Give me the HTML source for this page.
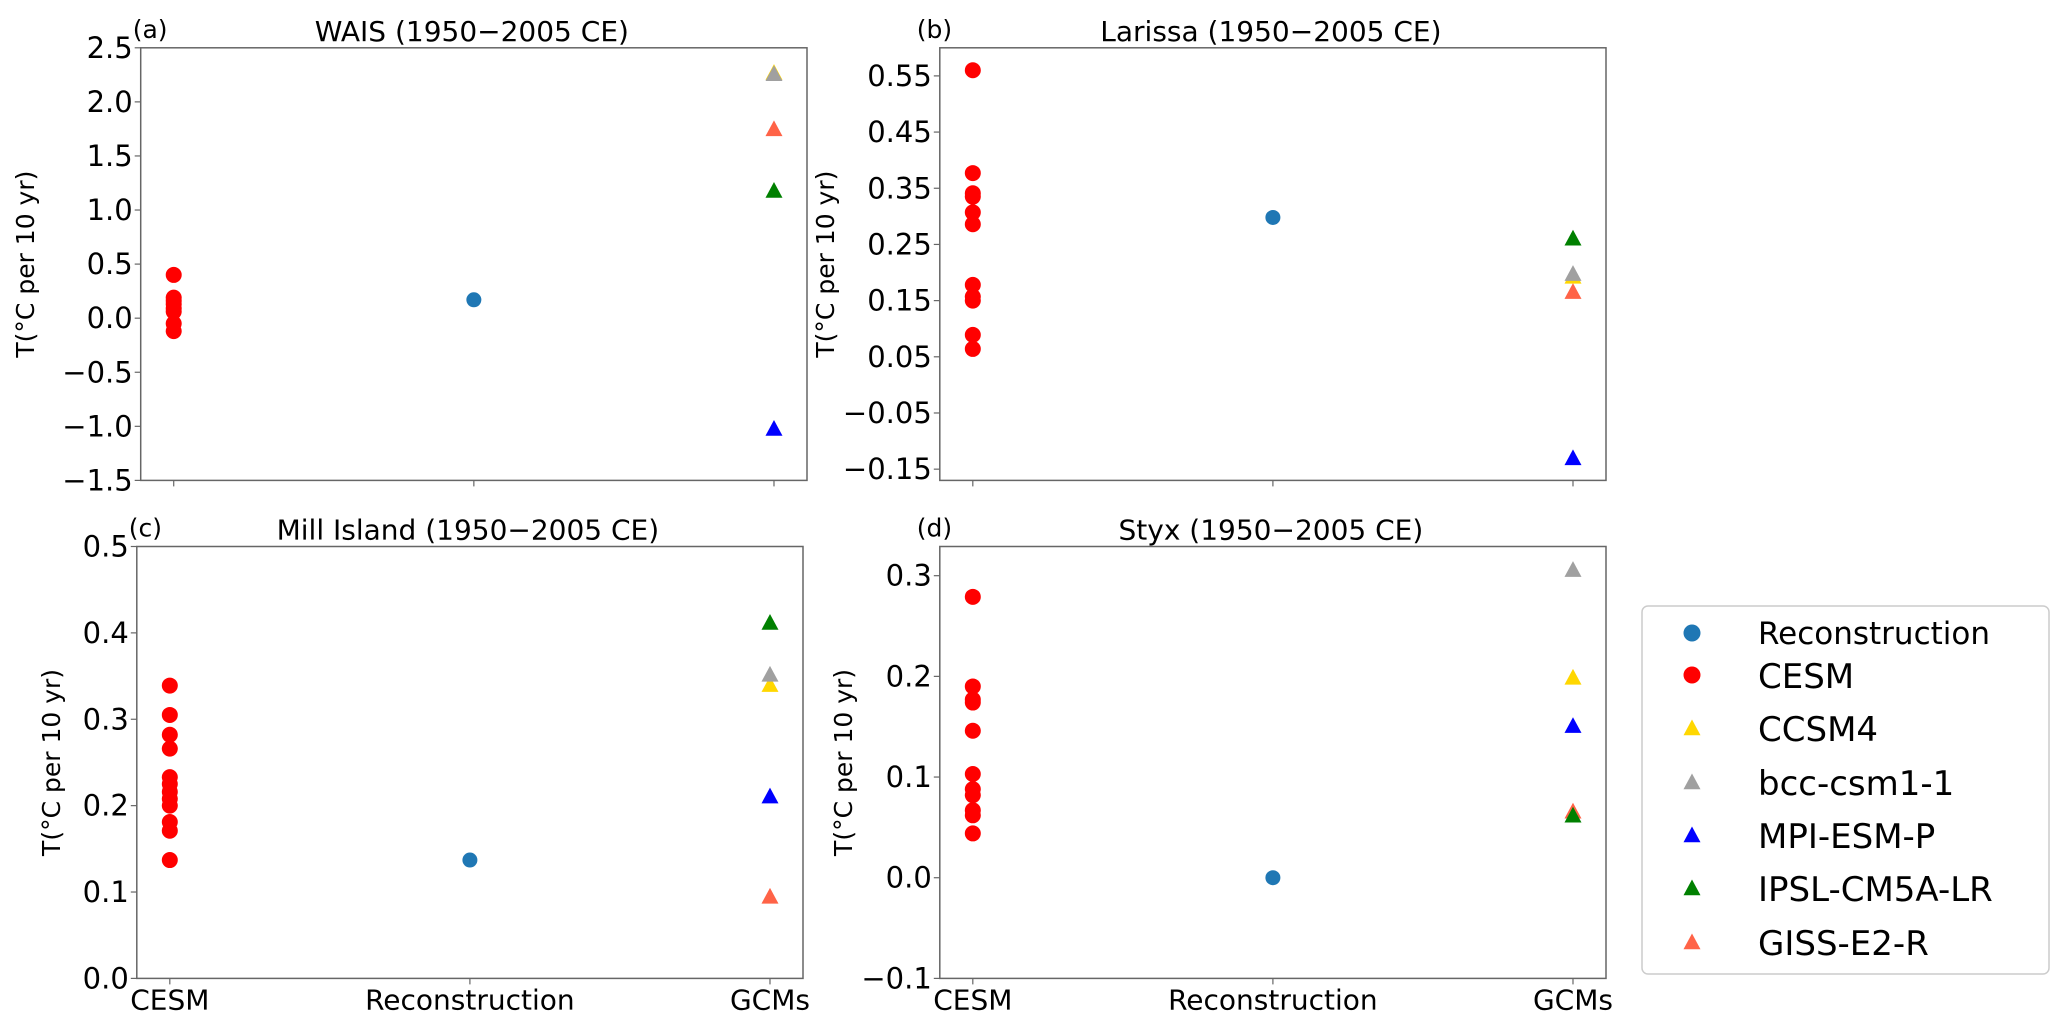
<!DOCTYPE html>
<html><head><meta charset="utf-8">
<style>
html,body{margin:0;padding:0;background:#fff;}
svg{display:block;font-family:"DejaVu Sans","Liberation Sans",sans-serif;}
</style></head>
<body>
<svg id="fig" width="2067" height="1026" viewBox="0 0 2067 1026"></svg>
<script>
// ---- data ----
const categories = ["CESM", "Reconstruction", "GCMs"];
const panelTitles = ["WAIS (1950\u22122005 CE)", "Larissa (1950\u22122005 CE)", "Mill Island (1950\u22122005 CE)", "Styx (1950\u22122005 CE)"];
const panelLetters = ["(a)", "(b)", "(c)", "(d)"];
const cesmA = [0.40, 0.19, 0.16, 0.13, 0.09, 0.06, -0.05, -0.12];
const cesmB = [0.56, 0.377, 0.341, 0.335, 0.307, 0.286, 0.178, 0.157, 0.15, 0.089, 0.064];
const cesmC = [0.339, 0.305, 0.282, 0.266, 0.233, 0.225, 0.216, 0.208, 0.2, 0.181, 0.171, 0.137];
const cesmD = [0.279, 0.19, 0.177, 0.174, 0.146, 0.103, 0.088, 0.082, 0.067, 0.062, 0.044];
const reconValues = [0.17, 0.298, 0.137, 0.0];
const gcmNames = ["CCSM4", "bcc-csm1-1", "MPI-ESM-P", "IPSL-CM5A-LR", "GISS-E2-R"];
const gcmColors = ["#ffd700", "#a0a0a0", "#0000ff", "#008000", "#ff6347"];
const gcmA = [2.27, 2.26, -1.02, 1.18, 1.75];
const gcmB = [0.193, 0.198, -0.130, 0.261, 0.166];
const gcmC = [0.340, 0.352, 0.211, 0.412, 0.095];
const gcmD = [0.199, 0.306, 0.151, 0.062, 0.066];
const yTicksA = [-1.5, -1.0, -0.5, 0.0, 0.5, 1.0, 1.5, 2.0, 2.5];
const yTicksB = [-0.15, -0.05, 0.05, 0.15, 0.25, 0.35, 0.45, 0.55];
const yTicksC = [0.0, 0.1, 0.2, 0.3, 0.4, 0.5];
const yTicksD = [-0.1, 0.0, 0.1, 0.2, 0.3];
const yTickDecimals = [1, 2, 1, 1];
const yLimits = [[-1.5, 2.5], [-0.17, 0.6], [0.0, 0.5], [-0.1, 0.329]];
const legendLabels = ["Reconstruction", "CESM", "CCSM4", "bcc-csm1-1", "MPI-ESM-P", "IPSL-CM5A-LR", "GISS-E2-R"];

const cesmAll = [cesmA, cesmB, cesmC, cesmD];
const gcmAll = [gcmA, gcmB, gcmC, gcmD];
const yTicksAll = [yTicksA, yTicksB, yTicksC, yTicksD];

// ---- layout ----
const boxes = [
  {l:140.7, r:807, t:47.8, b:480.4},
  {l:939.8, r:1606, t:47.8, b:480.4},
  {l:136.8, r:803, t:546.5, b:978.4},
  {l:939.8, r:1606, t:546.5, b:978.4}
];
const drawOrder = [0, 1, 2, 4, 3];
const NS = "http://www.w3.org/2000/svg";
const svg = document.getElementById("fig");
function mk(tag, attrs, parent){
  const e = document.createElementNS(NS, tag);
  for (const k in attrs) e.setAttribute(k, attrs[k]);
  (parent || svg).appendChild(e);
  return e;
}
function tri(g, cx, cy, color){
  const s = 8.5;
  return mk("polygon", {points:`${cx},${cy-s} ${cx-s},${cy+s*0.85} ${cx+s},${cy+s*0.85}`, fill:color}, g);
}
const fmt = (v, d) => (v < 0 ? "\u2212" : "") + Math.abs(v).toFixed(d);

boxes.forEach((bx, p) => {
  const g = mk("g", {});
  
  
  const [y0, y1] = yLimits[p];
  const xs = v => bx.l + (v + 0.11) / 2.22 * (bx.r - bx.l);
  const ys = v => bx.b - (v - y0) / (y1 - y0) * (bx.b - bx.t);

  const frame = mk("rect", {x:bx.l, y:bx.t, width:bx.r-bx.l, height:bx.b-bx.t, fill:"none", stroke:"#666", "stroke-width":1.5}, g);
  
  

  yTicksAll[p].forEach(t => {
    const y = ys(t);
    mk("line", {x1:bx.l-6, x2:bx.l, y1:y, y2:y, stroke:"#666", "stroke-width":1.2}, g);
    const tx = mk("text", {x:bx.l-8, y:y+10, "text-anchor":"end", "font-size":29, fill:"#000"}, g);
    tx.textContent = fmt(t, yTickDecimals[p]);
    
    
  });
  categories.forEach((c, i) => {
    const x = xs(i);
    mk("line", {x1:x, x2:x, y1:bx.b, y2:bx.b+6, stroke:"#666", "stroke-width":1.2}, g);
    if (p >= 2) {
      const tx = mk("text", {x:x, y:bx.b+31, "text-anchor":"middle", "font-size":28, fill:"#000"}, g);
      tx.textContent = c;
      
      
    }
  });
  const title = mk("text", {x:(bx.l+bx.r)/2 - 2, y:bx.t-7, "text-anchor":"middle", "font-size":28, fill:"#000"}, g);
  title.textContent = panelTitles[p];
  
  
  const lx = p % 2 === 0 ? bx.l - 8 : bx.l - 23;
  const letter = mk("text", {x:lx, y:bx.t-10, "font-size":25, fill:"#000"}, g);
  letter.textContent = panelLetters[p];
  
  
  const ylx = p === 0 ? 34 : p === 2 ? 60 : p === 1 ? 834 : 852;
  const ylab = mk("text", {x:ylx, y:(bx.t+bx.b)/2, "text-anchor":"middle", "font-size":25, fill:"#000", transform:`rotate(-90 ${ylx} ${(bx.t+bx.b)/2})`}, g);
  ylab.textContent = "T(\u00b0C per 10 yr)";
  
  

  const rc = mk("circle", {cx:xs(1), cy:ys(reconValues[p]), r:7.5, fill:"#1f77b4"}, g);
  
  
  cesmAll[p].forEach(v => {
    const c = mk("circle", {cx:xs(0), cy:ys(v), r:8, fill:"#ff0000"}, g);
    
    
  });
  drawOrder.forEach(i => {
    const t = tri(g, xs(2), ys(gcmAll[p][i]), gcmColors[i]);
    
    
  });
});

const lg = mk("g", {});


mk("rect", {x:1642, y:606, width:407, height:368, rx:6, fill:"#fff", stroke:"#ccc", "stroke-width":1.5}, lg);
const legendY = [633, 675, 728, 782, 835, 888, 942];
const legendColors = ["#1f77b4", "#ff0000"].concat(gcmColors);
legendLabels.forEach((lab, i) => {
  const y = legendY[i];
  let m;
  if (i < 2) m = mk("circle", {cx:1692, cy:y, r:8.5, fill:legendColors[i]}, lg);
  else m = tri(lg, 1692, y, legendColors[i]);
  
  
  const t = mk("text", {x:1758, y:y + (i===0?11:13), "font-size": i===0?31:34, fill:"#000"}, lg);
  t.textContent = lab;
  
  
});
</script>
</body></html>
